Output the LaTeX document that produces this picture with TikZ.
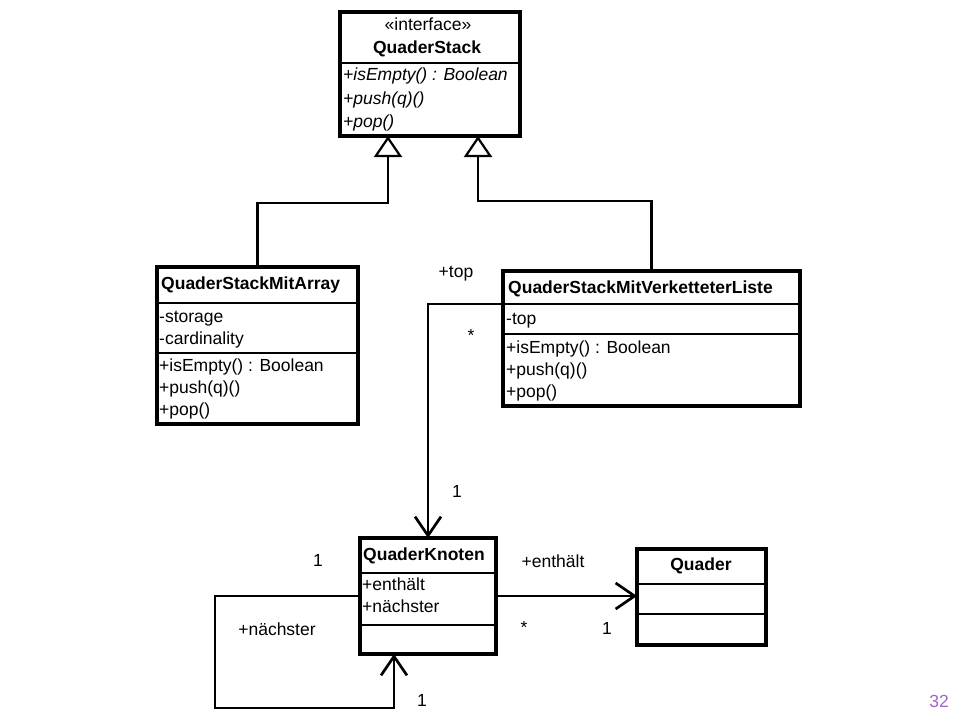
\documentclass[tikz,border=0pt]{standalone}
\usepackage{fontspec}
\setmainfont{Liberation Sans}
\usetikzlibrary{arrows.meta}
\newcommand{\fsz}{\fontsize{17.5}{20}\selectfont}
\definecolor{pagenum}{RGB}{160,100,210}
\begin{document}
\begin{tikzpicture}[x=1pt,y=-1pt,
  classbox/.style={draw, line width=3.2pt, inner sep=0pt, outer sep=0pt},
  divline/.style={line width=2.2pt},
  conn/.style={line width=2.7pt},
  txt/.style={inner sep=0pt, font=\fsz, anchor=west, text height=12pt, text depth=3.5pt},
  ctxt/.style={inner sep=0pt, font=\fsz, text height=12pt, text depth=3.5pt},
  gen/.style={-{Triangle[open, fill=white, length=21pt, width=28pt, line width=2.2pt]}},
  assoc/.style={-{Straight Barb[length=19pt, width=26pt, line width=2.7pt]}}
]
\useasboundingbox (0,0) rectangle (960,720);
\fill[white] (0,0) rectangle (960,720);

% ---- class boxes
\node[classbox, minimum width=180pt, minimum height=124pt] (qs) at (430,74) {};
\node[classbox, minimum width=201pt, minimum height=157pt] (qsa) at (257.5,345.5) {};
\node[classbox, minimum width=297pt, minimum height=135pt] (qsv) at (651.5,338.5) {};
\node[classbox, minimum width=136pt, minimum height=116pt] (qk) at (428,596) {};
\node[classbox, minimum width=129pt, minimum height=96pt] (qd) at (701.5,597) {};

% ---- dividers
\draw[divline] (qs.west |- 0,63) -- (qs.east |- 0,63);
\draw[divline] (qsa.west |- 0,303) -- (qsa.east |- 0,303);
\draw[divline] (qsa.west |- 0,353) -- (qsa.east |- 0,353);
\draw[divline] (qsv.west |- 0,304) -- (qsv.east |- 0,304);
\draw[divline] (qsv.west |- 0,334) -- (qsv.east |- 0,334);
\draw[divline] (qk.west |- 0,573) -- (qk.east |- 0,573);
\draw[divline] (qk.west |- 0,625) -- (qk.east |- 0,625);
\draw[divline] (qd.west |- 0,584) -- (qd.east |- 0,584);
\draw[divline] (qd.west |- 0,614) -- (qd.east |- 0,614);

% ---- texts: interface
\node[ctxt] (t1) at (428,26) {«interface»};
\node[ctxt, font=\fsz\bfseries] (t2) at (427,49) {QuaderStack};
\node[txt, font=\fsz\itshape] (t3) at (343,76) {+isEmpty() : Boolean};
\node[txt, font=\fsz\itshape] (t4) at (343,100) {+push(q)()};
\node[txt, font=\fsz\itshape] (t5) at (343,123) {+pop()};

% ---- QuaderStackMitArray
\node[txt, font=\fsz\bfseries] (a1) at (161,285) {QuaderStackMitArray};
\node[txt] (a2) at (159,318) {-storage};
\node[txt] (a3) at (159,340) {-cardinality};
\node[txt] (a4) at (159,367) {+isEmpty() : Boolean};
\node[txt] (a5) at (159,389) {+push(q)()};
\node[txt] (a6) at (159,411) {+pop()};

% ---- QuaderStackMitVerketteterListe
\node[txt, font=\fsz\bfseries] (v1) at (508,289) {QuaderStackMitVerketteterListe};
\node[txt] (v2) at (506,320) {-top};
\node[txt] (v3) at (506,349) {+isEmpty() : Boolean};
\node[txt] (v4) at (506,371) {+push(q)()};
\node[txt] (v5) at (506,393) {+pop()};

% ---- QuaderKnoten
\node[txt, font=\fsz\bfseries] (k1) at (363,556) {QuaderKnoten};
\node[txt] (k2) at (362,586) {+enthält};
\node[txt] (k3) at (362,608) {+nächster};

% ---- Quader
\node[ctxt, font=\fsz\bfseries] (d1) at (701,566) {Quader};

% ---- generalizations
\coordinate (gl) at (388,203);
\coordinate (gr) at (478,201);
\draw[conn, gen] (qsa.north) |- (gl) -- (gl |- qs.south);
\draw[conn, gen] (qsv.north) |- (gr) -- (gr |- qs.south);

% ---- associations
\draw[conn, assoc] (qsv.west |- 0,304) -| (qk.north);
\coordinate (s1) at (215,708);
\coordinate (s2) at (394,708);
\draw[conn, assoc] (qk.west) -| (s1) -- (s2) -- (s2 |- qk.south);
\draw[conn, assoc] (qk.east) -- (qk.east -| qd.west);

% ---- association labels
\node[ctxt] (l1) at (456,273) {+top};
\node[ctxt] (l2) at (471,337) {*};
\node[ctxt] (l3) at (457,493) {1};
\node[ctxt] (l4) at (318,562) {1};
\node[ctxt] (l5) at (277,631) {+nächster};
\node[ctxt] (l6) at (422,702) {1};
\node[ctxt] (l7) at (553,563) {+enthält};
\node[ctxt] (l8) at (524,629) {*};
\node[ctxt] (l9) at (607,630) {1};

% ---- page number
\node[ctxt, text=pagenum] (pn) at (939,703) {32};
\end{tikzpicture}
\end{document}
